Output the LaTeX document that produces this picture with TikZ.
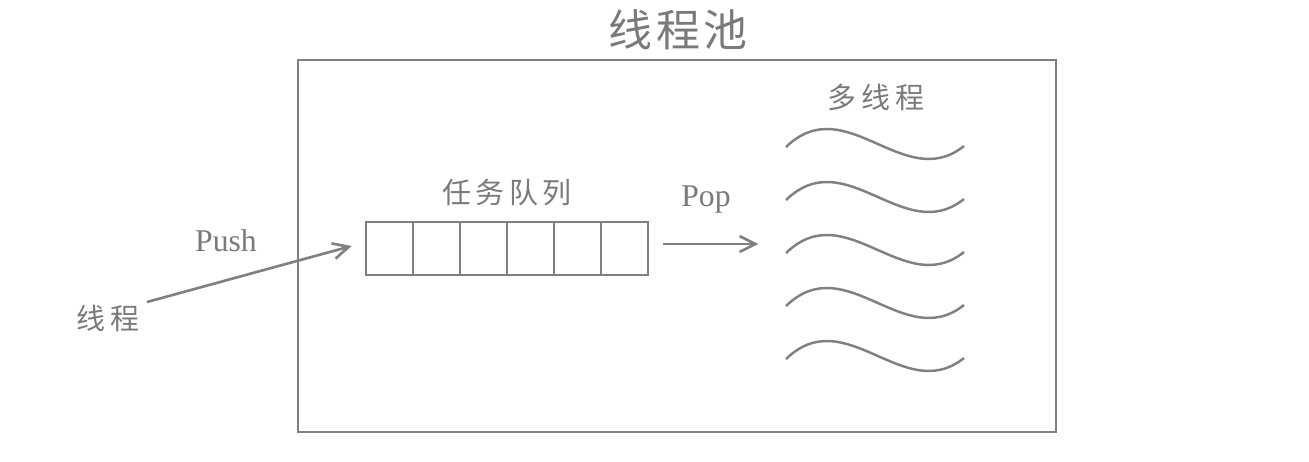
\documentclass[tikz,border=0pt]{standalone}
\usepackage{fontspec}
\setmainfont{Liberation Serif}
\newfontfamily\cjk[LetterSpace=16]{Noto Sans CJK SC}
\newfontfamily\cjktitle[LetterSpace=9]{Noto Sans CJK SC}
\usepackage{tikz}
\usetikzlibrary{arrows.meta}
\definecolor{linegray}{HTML}{808080}
\definecolor{textgray}{HTML}{7A7A7A}

\begin{document}
\begin{tikzpicture}[x=0.02cm,y=-0.02cm,
  frame/.style={draw=linegray,line width=1.6pt},
  cell/.style={draw=linegray,line width=1.6pt,minimum width=0.94cm,minimum height=1.06cm,inner sep=0pt},
  label/.style={text=textgray,inner sep=0pt,font=\fontsize{18}{20}\selectfont},
  cnlabel/.style={text=textgray,inner sep=0pt,font=\cjk\fontsize{16.5}{18}\selectfont},
  arr/.style={draw=linegray,line width=1.5pt,-{Straight Barb[length=9pt,width=9pt,line width=1.5pt]}},
  wave/.style={draw=linegray,line width=1.4pt}]
\useasboundingbox (0,0) rectangle (1309,461);
\node[cnlabel,font=\cjktitle\fontsize{25}{28}\selectfont] (title) at (678,30) {线程池};
\draw[frame] (298,60) rectangle (1056,432);
\node[cnlabel] (multi) at (876,97) {多线程};
\foreach \i in {0,...,4}
  \draw[wave] (786,{147+53*\i}) .. controls (846,{89+53*\i}) and (904,{194+53*\i}) .. (964,{146+53*\i});
\node[cnlabel] (tasks) at (507,193) {任务队列};
\foreach \i in {1,...,6}
  \node[cell] (q\i) at ({342.5+47*\i},248.5) {};
\node[label] (push) at (226,241) {Push};
\node[label] (pop) at (706,200) {Pop};
\node[cnlabel] (thread) at (108,318) {线程};
\coordinate (pushfrom) at (147,302);
\coordinate (pushto) at ([xshift=-0.26cm,yshift=0.05cm]q1.west);
\coordinate (popfrom) at ([xshift=0.28cm,yshift=0.09cm]q6.east);
\coordinate (popto) at ([xshift=2.18cm,yshift=0.09cm]q6.east);
\draw[arr] (pushfrom) -- (pushto);
\draw[arr] (popfrom) -- (popto);
\end{tikzpicture}
\end{document}
